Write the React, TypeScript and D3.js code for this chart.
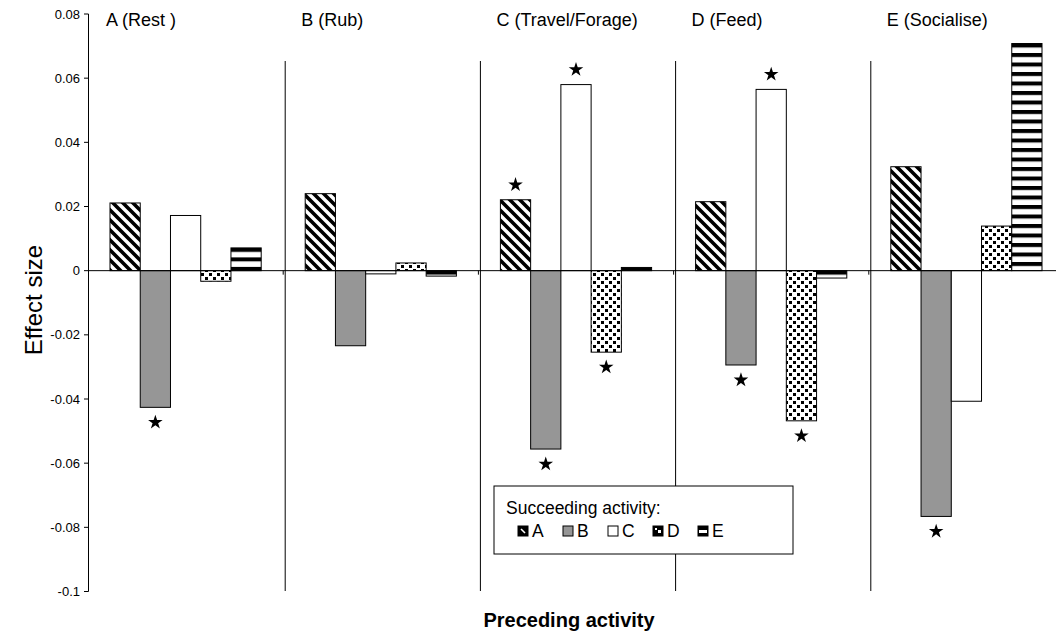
import React from "react";
import * as d3 from "d3";

const groups = ["A (Rest )", "B (Rub)", "C (Travel/Forage)", "D (Feed)", "E (Socialise)"];
const succeeding = ["A", "B", "C", "D", "E"];

const seriesA = [0.0211, 0.024, 0.0221, 0.0215, 0.0324];
const seriesB = [-0.0426, -0.0234, -0.0556, -0.0294, -0.0766];
const seriesC = [0.0172, -0.001, 0.058, 0.0565, -0.0407];
const seriesD = [-0.0033, 0.0024, -0.0254, -0.0468, 0.0139];
const seriesE = [0.0071, -0.0017, 0.001, -0.0023, 0.0708];

const sigA = [false, false, true, false, false];
const sigB = [true, false, true, true, true];
const sigC = [false, false, true, true, false];
const sigD = [false, false, true, true, false];
const sigE = [false, false, false, false, false];

const yTicks = [0.08, 0.06, 0.04, 0.02, 0, -0.02, -0.04, -0.06, -0.08, -0.1];

const W = 1056;
const H = 632;
const FONT = "'Liberation Sans', Arial, Helvetica, sans-serif";

export default function App() {
  const seriesVals = [seriesA, seriesB, seriesC, seriesD, seriesE];
  const seriesSig = [sigA, sigB, sigC, sigD, sigE];
  const fills = ["url(#patA)", "#969696", "#ffffff", "url(#patD)", "url(#patE)"];

  const y = d3.scaleLinear().domain([-0.1, 0.08]).range([591.5, 14]);
  const x0 = d3.scaleBand().domain(groups).range([88, 1064]).padding(0);
  const step = x0.step();
  const x1 = d3.scaleBand().domain(succeeding).range([22, step - 22]).padding(0);
  const bw = x1.bandwidth();
  const y0 = y(0);

  const bars: any[] = [];
  groups.forEach((g, gi) => {
    succeeding.forEach((s, si) => {
      const v = seriesVals[si][gi];
      const bx = (x0(g) as number) + (x1(s) as number);
      const top = Math.min(y(v), y0);
      const h = Math.abs(y(v) - y0);
      bars.push({ g, gi, s, si, v, bx, top, h, sig: seriesSig[si][gi] });
    });
  });

  const star = d3.symbol().type(d3.symbolStar).size(66)();
  const dividers = groups.slice(1).map((g) => x0(g) as number);
  const yt = (v: number) => (v === 0 ? "0" : String(+v.toFixed(2)));

  return (
    <svg width={W} height={H} style={{ position: "absolute", left: 0, top: 0, background: "#fff" }} fontFamily={FONT}>
      <defs>
        <pattern id="patA" patternUnits="userSpaceOnUse" width={10} height={10}>
          <rect width={10} height={10} fill="#fff" />
          <path d="M0,0 L10,10 M-2,8 L2,12 M8,-2 L12,2" stroke="#000" strokeWidth={3.6} />
        </pattern>
        <pattern id="patD" patternUnits="userSpaceOnUse" width={8} height={8}>
          <rect width={8} height={8} fill="#fff" />
          <rect x={1} y={1} width={3} height={3} fill="#000" />
          <rect x={5} y={5} width={3} height={3} fill="#000" />
        </pattern>
        {bars
          .filter((b) => b.si === 4)
          .map((b) => (
            <pattern key={b.gi} id={`patE${b.gi}`} patternUnits="userSpaceOnUse" x={0} y={b.top} width={10} height={9.5}>
              <rect width={10} height={9.5} fill="#fff" />
              <rect width={10} height={4} fill="#000" />
            </pattern>
          ))}
        <pattern id="patE" patternUnits="userSpaceOnUse" x={0} y={0} width={10} height={9.5}>
          <rect width={10} height={9.5} fill="#fff" />
          <rect width={10} height={4} fill="#000" />
        </pattern>
        <pattern id="legA" patternUnits="objectBoundingBox" width={1} height={1}>
          <rect width={10} height={10} fill="#000" />
          <path d="M3,3 L7,7" stroke="#fff" strokeWidth={1.6} />
        </pattern>
        <pattern id="legD" patternUnits="objectBoundingBox" width={1} height={1}>
          <rect width={10} height={10} fill="#000" />
          <rect x={5} y={4} width={3} height={3} fill="#fff" />
          <rect x={2} y={2} width={2} height={2} fill="#fff" />
        </pattern>
        <pattern id="legE" patternUnits="objectBoundingBox" width={1} height={1}>
          <rect width={10} height={10} fill="#000" />
          <rect x={1} y={4} width={8} height={3} fill="#fff" />
        </pattern>
      </defs>

      {/* dividers */}
      {dividers.map((d, i) => (
        <line key={i} x1={d + 2} x2={d + 2} y1={61} y2={591} stroke="#000" strokeWidth={1} />
      ))}

      {/* y axis */}
      <line x1={88.5} x2={88.5} y1={y(0.08)} y2={y(-0.1)} stroke="#000" />
      {yTicks.map((t) => (
        <g key={t} transform={`translate(0,${y(t)})`}>
          <line x1={84} x2={88.5} stroke="#000" />
          <text x={80} dy="0.35em" textAnchor="end" fontSize={13}>
            {yt(t)}
          </text>
        </g>
      ))}

      {/* bars */}
      {bars.map((b) => (
        <rect
          key={`${b.gi}-${b.si}`}
          x={b.bx}
          y={b.top}
          width={bw}
          height={Math.max(b.h, 0.5)}
          fill={b.si === 4 ? `url(#patE${b.gi})` : fills[b.si]}
          stroke="#000"
          strokeWidth={1}
        />
      ))}

      {/* zero line */}
      <line x1={88} x2={W} y1={y0} y2={y0} stroke="#000" />
      {dividers.map((d, i) => (
        <line key={i} x1={d} x2={d} y1={y0} y2={y0 + 4} stroke="#000" />
      ))}

      {/* stars */}
      {bars
        .filter((b) => b.sig)
        .map((b) => (
          <path
            key={`s${b.gi}-${b.si}`}
            d={star as string}
            transform={`translate(${b.bx + bw / 2},${b.v >= 0 ? y(b.v) - 15 : y(b.v) + 15})`}
            fill="#000"
          />
        ))}

      {/* group titles */}
      {groups.map((g) => (
        <text key={g} x={(x0(g) as number) + 18} y={26} fontSize={18}>
          {g}
        </text>
      ))}

      {/* legend */}
      <g>
        <rect x={494} y={486} width={299} height={68} fill="#fff" stroke="#000" />
        <text x={506} y={514} fontSize={17.5}>
          Succeeding activity:
        </text>
        {succeeding.map((s, i) => (
          <g key={s} transform={`translate(${518 + i * 45},526)`}>
            <rect
              width={10}
              height={10}
              fill={i === 0 ? "url(#legA)" : i === 3 ? "url(#legD)" : i === 4 ? "url(#legE)" : fills[i]}
              stroke="#000"
              strokeWidth={1}
            />
            <text x={14} y={11} fontSize={17.5}>
              {s}
            </text>
          </g>
        ))}
      </g>

      {/* axis titles */}
      <text x={569} y={627} textAnchor="middle" fontSize={20} fontWeight="bold">
        Preceding activity
      </text>
      <text transform={`translate(42,300) rotate(-90)`} textAnchor="middle" fontSize={24}>
        Effect size
      </text>
    </svg>
  );
}
